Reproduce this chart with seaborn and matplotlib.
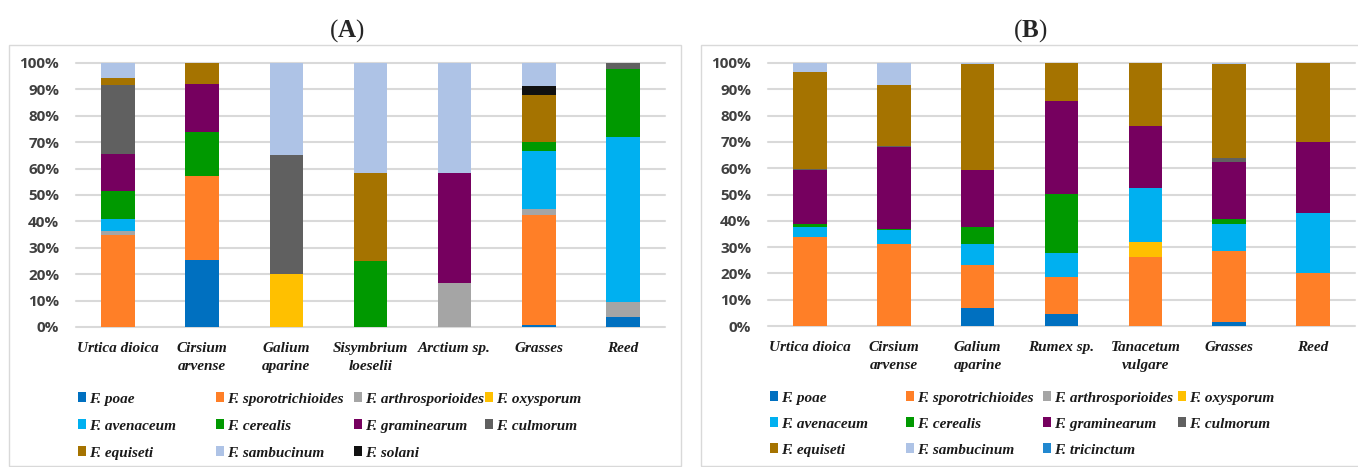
import numpy as np
import pandas as pd
import matplotlib
matplotlib.use("Agg")
import matplotlib.pyplot as plt
from matplotlib.patches import Patch, Rectangle
from matplotlib.ticker import PercentFormatter
import seaborn as sns

# --- Dati (percentuali, dal basso verso l'alto) ---
PLANTS_A = ['Urtica dioica', 'Cirsium\narvense', 'Galium\naparine', 'Sisymbrium\nloeselii',
            'Arctium sp.', 'Grasses', 'Reed']
PLANTS_B = ['Urtica dioica', 'Cirsium\narvense', 'Galium\naparine', 'Rumex sp.',
            'Tanacetum\nvulgare', 'Grasses', 'Reed']

poae_a = [0, 25.3, 0, 0, 0, 0.6, 3.8]
sporo_a = [35.0, 31.8, 0, 0, 0, 41.9, 0]
arthro_a = [1.2, 0, 0, 0, 16.7, 2.3, 5.5]
oxys_a = [0, 0, 20.0, 0, 0, 0, 0]
aven_a = [4.7, 0, 0, 0, 0, 21.7, 62.6]
cere_a = [10.5, 16.8, 0, 25.0, 0, 3.5, 25.8]
gram_a = [14.3, 18.3, 0, 0, 41.7, 0, 0]
culm_a = [26.1, 0, 45.0, 0, 0, 0, 2.3]
equi_a = [2.5, 7.8, 0, 33.3, 0, 17.7, 0]
solani_a = [0, 0, 0, 0, 0, 3.7, 0]
samb_a = [5.7, 0, 35.0, 41.7, 41.6, 8.6, 0]

poae_b = [0, 0, 6.7, 4.4, 0, 1.6, 0]
sporo_b = [33.7, 31.1, 16.5, 14.3, 26.1, 27.0, 20.3]
arthro_b = [0, 0, 0, 0, 0, 0, 0]
oxys_b = [0, 0, 0, 0, 5.9, 0, 0]
aven_b = [4.0, 5.3, 8.0, 9.1, 20.3, 10.1, 22.7]
cere_b = [0.9, 0.4, 6.3, 22.5, 0, 1.8, 0]
gram_b = [20.9, 31.3, 22.0, 35.4, 23.6, 21.9, 27.0]
culm_b = [0.3, 0.5, 0, 0, 0, 1.6, 0]
equi_b = [36.8, 22.9, 40.0, 14.3, 24.1, 35.5, 30.0]
samb_b = [3.4, 8.5, 0.5, 0, 0, 0.5, 0]
tric_b = [0, 0, 0, 0, 0, 0, 0]

COLORS = {
    'F. poae': '#0070C0',
    'F. sporotrichioides': '#FF7F27',
    'F. arthrosporioides': '#A5A5A5',
    'F. oxysporum': '#FFC000',
    'F. avenaceum': '#00B0F0',
    'F. cerealis': '#009900',
    'F. graminearum': '#76005F',
    'F. culmorum': '#606060',
    'F. equiseti': '#A57300',
    'F. sambucinum': '#AEC3E6',
    'F. solani': '#111111',
    'F. tricinctum': '#2188D0',
}

# ordine di impilamento (basso -> alto)
STACK_A = [('F. poae', poae_a), ('F. sporotrichioides', sporo_a), ('F. arthrosporioides', arthro_a),
           ('F. oxysporum', oxys_a), ('F. avenaceum', aven_a), ('F. cerealis', cere_a),
           ('F. graminearum', gram_a), ('F. culmorum', culm_a), ('F. equiseti', equi_a),
           ('F. solani', solani_a), ('F. sambucinum', samb_a)]
STACK_B = [('F. poae', poae_b), ('F. sporotrichioides', sporo_b), ('F. arthrosporioides', arthro_b),
           ('F. oxysporum', oxys_b), ('F. avenaceum', aven_b), ('F. cerealis', cere_b),
           ('F. graminearum', gram_b), ('F. culmorum', culm_b), ('F. equiseti', equi_b),
           ('F. tricinctum', tric_b), ('F. sambucinum', samb_b)]

LEGEND_A = ['F. poae', 'F. sporotrichioides', 'F. arthrosporioides', 'F. oxysporum',
            'F. avenaceum', 'F. cerealis', 'F. graminearum', 'F. culmorum',
            'F. equiseti', 'F. sambucinum', 'F. solani']
LEGEND_B = LEGEND_A[:10] + ['F. tricinctum']

W, H = 1358, 467

sns.set_style("white")
plt.rcParams['mathtext.fontset'] = 'custom'
plt.rcParams['mathtext.rm'] = 'Liberation Serif'
plt.rcParams['mathtext.bf'] = 'Liberation Serif:bold'

SERIF_IT = dict(family='Liberation Serif', style='italic', weight='bold', size=11)


def draw_panel(fig, rect, plants, stack):
    ax = fig.add_axes(rect)
    base = np.zeros(len(plants))
    for name, vals in stack:
        sns.barplot(x=plants, y=vals, order=plants, color=COLORS[name], saturation=1,
                    width=0.4, bottom=base, errorbar=None, linewidth=0, ax=ax)
        base = base + np.array(vals)
    ax.set_ylim(0, 100)
    ax.set_xlim(-0.5, len(plants) - 0.5)
    ax.set_yticks(np.arange(0, 101, 10))
    ax.yaxis.set_major_formatter(PercentFormatter(100, decimals=0))
    ax.yaxis.grid(True, color='#D9D9D9', linewidth=1.5)
    for gl in ax.get_ygridlines():
        gl.set_clip_on(False)
    ax.set_axisbelow(True)
    sns.despine(ax=ax, left=True, bottom=True)
    ax.tick_params(axis='y', length=0, pad=12, labelcolor='#404040')
    ax.tick_params(axis='x', length=0, pad=11)
    for lbl in ax.get_yticklabels():
        lbl.set_fontfamily('Open Sans')
        lbl.set_fontweight('bold')
        lbl.set_fontsize(11)
    for lbl in ax.get_xticklabels():
        lbl.set_fontproperties(matplotlib.font_manager.FontProperties(**SERIF_IT))
        lbl.set_color('#1a1a1a')
        lbl.set_linespacing(1.5)
        lbl.set_verticalalignment('top')
    ax.set_xlabel('')
    ax.set_ylabel('')
    return ax


def add_legend(fig, names, col_x, row_y):
    font = matplotlib.font_manager.FontProperties(**SERIF_IT)
    for i, name in enumerate(names):
        x = col_x[i % 4] / W
        y = 1 - row_y[i // 4] / H
        fig.legend(handles=[Patch(facecolor=COLORS[name], edgecolor='none')], labels=[name],
                   loc='center left', bbox_to_anchor=(x, y), frameon=False,
                   handlelength=0.55, handleheight=0.55, handletextpad=0.2,
                   borderpad=0, borderaxespad=0, prop=font, labelcolor='#1a1a1a')


fig = plt.figure(figsize=(W / 100, H / 100), dpi=100)

# riquadri dei pannelli
fig.patches.append(Rectangle((9 / W, 1 / H), 672 / W, 421 / H, transform=fig.transFigure,
                             fill=False, edgecolor='#D9D9D9', linewidth=1))
fig.patches.append(Rectangle((701 / W, 1 / H), 670 / W, 421 / H, transform=fig.transFigure,
                             fill=False, edgecolor='#D9D9D9', linewidth=1))

draw_panel(fig, [76 / W, 1 - 327 / H, 589 / W, 264 / H], PLANTS_A, STACK_A)
draw_panel(fig, [768 / W, 1 - 326 / H, 587 / W, 263 / H], PLANTS_B, STACK_B)

add_legend(fig, LEGEND_A, [78, 216, 354, 485], [399, 426, 453])
add_legend(fig, LEGEND_B, [770, 906, 1043, 1178], [398, 424, 450])

fig.text(347 / W, 1 - 31 / H, r'$\mathrm{(}\mathbf{A}\mathrm{)}$', ha='center', va='center', fontsize=18)
fig.text(1030 / W, 1 - 31 / H, r'$\mathrm{(}\mathbf{B}\mathrm{)}$', ha='center', va='center', fontsize=18)

fig.savefig('out.png', dpi=100)
